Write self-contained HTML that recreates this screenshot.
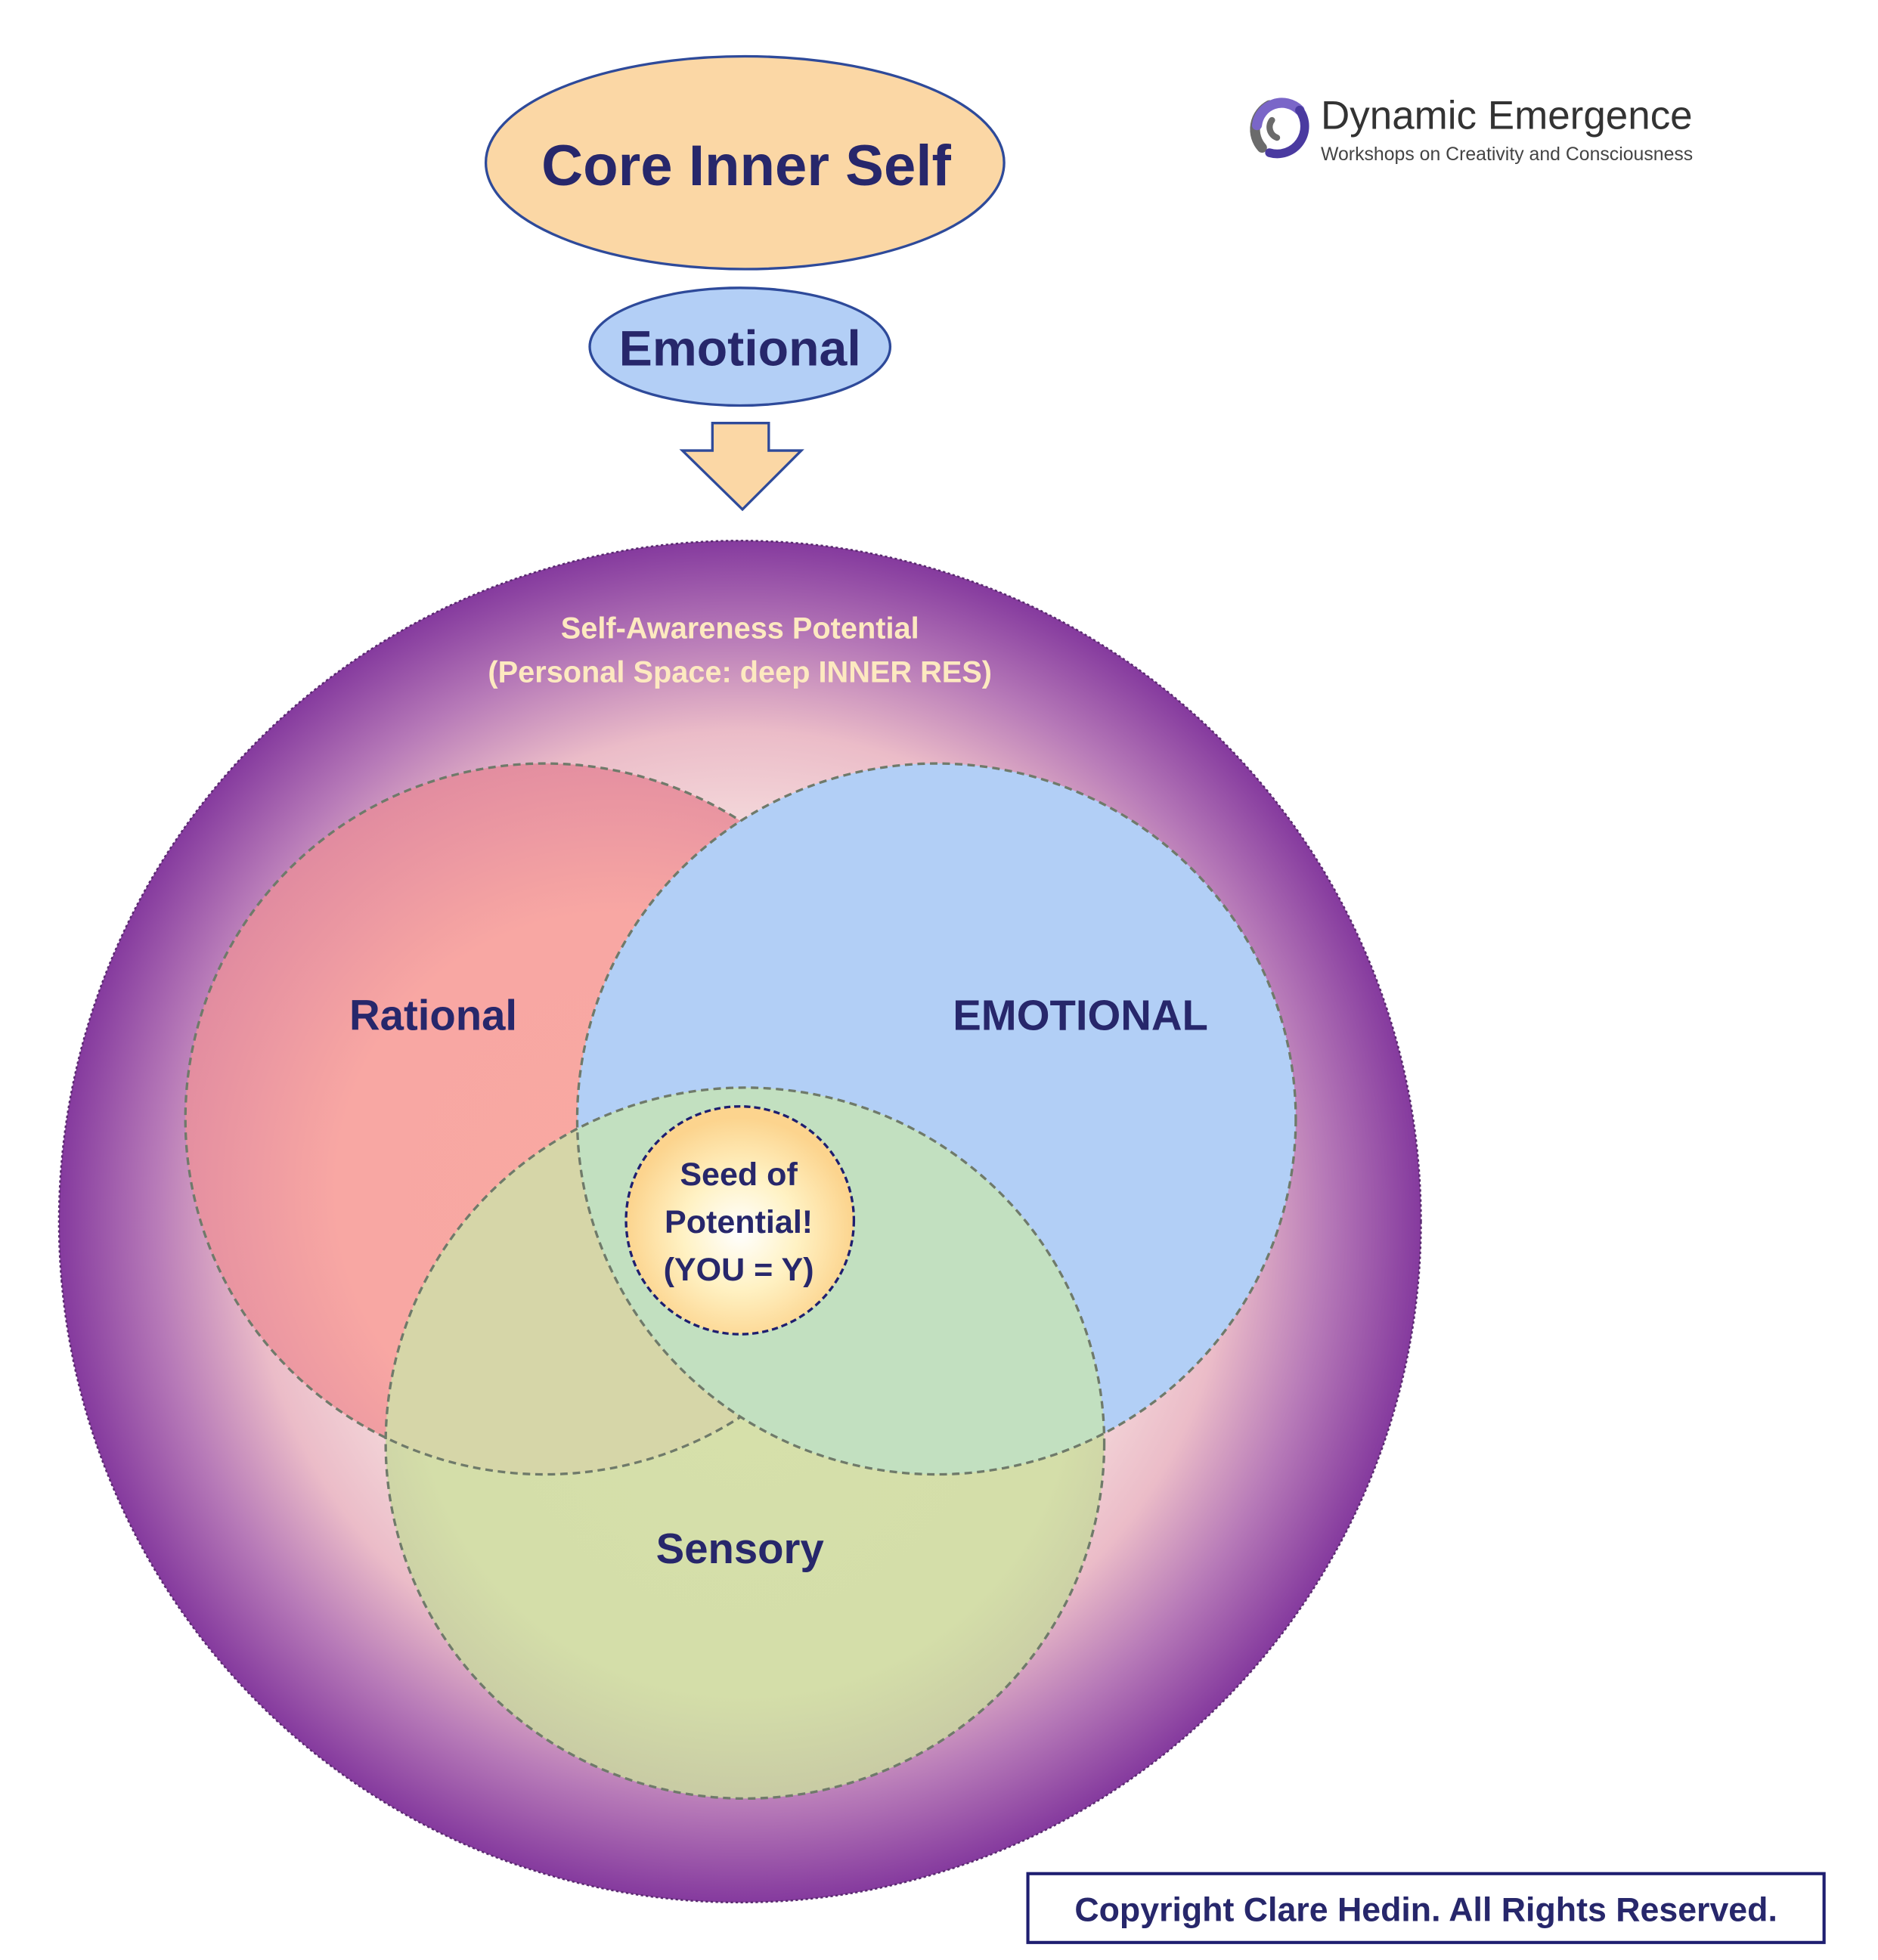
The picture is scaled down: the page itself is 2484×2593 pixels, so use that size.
<!DOCTYPE html>
<html><head><meta charset="utf-8"><style>html,body{margin:0;padding:0;background:#fff}svg{display:block}</style></head>
<body>
<svg width="2484" height="2593" viewBox="0 0 1500 1566" xmlns="http://www.w3.org/2000/svg" font-family="'Liberation Sans', 'DejaVu Sans', sans-serif">
<defs>
<radialGradient id="big" cx="0.5" cy="0.5" r="0.5">
<stop offset="0" stop-color="#ffffff"/>
<stop offset="0.55" stop-color="#f6dede"/>
<stop offset="0.72" stop-color="#ebbcc8"/>
<stop offset="0.86" stop-color="#b77ab8"/>
<stop offset="1" stop-color="#853a9e"/>
</radialGradient>
<radialGradient id="rat" cx="0.6" cy="0.6" r="0.65">
<stop offset="0" stop-color="#f9a8a2"/>
<stop offset="0.6" stop-color="#f8a7a3"/>
<stop offset="1" stop-color="#e08aa0"/>
</radialGradient>
<radialGradient id="sen" cx="0.5" cy="0.4" r="0.65">
<stop offset="0" stop-color="#d6e0aa"/>
<stop offset="0.7" stop-color="#d4dea9"/>
<stop offset="1" stop-color="#c4c4a2"/>
</radialGradient>
<radialGradient id="seed" cx="0.5" cy="0.55" r="0.5">
<stop offset="0" stop-color="#ffffff"/>
<stop offset="0.5" stop-color="#fff2c4"/>
<stop offset="1" stop-color="#fcd48e"/>
</radialGradient>
<clipPath id="cs"><ellipse cx="595" cy="1153" rx="287" ry="284"/></clipPath>
</defs>

<ellipse cx="595" cy="130" rx="207" ry="85" fill="#fbd7a5" stroke="#2e4a9a" stroke-width="2"/>
<text x="596" y="148" text-anchor="middle" font-size="46" font-weight="bold" fill="#27276b">Core Inner Self</text>
<ellipse cx="591" cy="277" rx="120" ry="47" fill="#b3cff6" stroke="#2e4a9a" stroke-width="2"/>
<text x="591" y="292" text-anchor="middle" font-size="40" font-weight="bold" fill="#27276b">Emotional</text>
<polygon points="569,338 614,338 614,360 640,360 593,407 545,360 569,360" fill="#fbd7a5" stroke="#2e4a9a" stroke-width="2"/>

<g fill="none" stroke-linecap="round">
<path d="M1008,118 A22,22 0 0 1 1014,84" stroke="#6b6b6b" stroke-width="8"/>
<path d="M1004,100 A20,20 0 0 1 1038,88" stroke="#7a66c8" stroke-width="8"/>
<path d="M1038,88 A22,22 0 0 1 1014,122" stroke="#4a3aa0" stroke-width="7"/>
<path d="M1020,110 A9,9 0 0 1 1016,96" stroke="#6b6b6b" stroke-width="5"/>
</g>
<text x="1055" y="103" font-size="32" fill="#333">Dynamic Emergence</text>
<text x="1055" y="128" font-size="15" fill="#444">Workshops on Creativity and Consciousness</text>

<circle cx="591" cy="976" r="544" fill="url(#big)" stroke="#5a2a70" stroke-width="1.5" stroke-dasharray="2,2"/>
<text x="591" y="510" text-anchor="middle" font-size="24" font-weight="bold" fill="#fde9c0">Self-Awareness Potential</text>
<text x="591" y="545" text-anchor="middle" font-size="24" font-weight="bold" fill="#fde9c0">(Personal Space: deep INNER RES)</text>

<g stroke="#6f7a6a" stroke-width="2" stroke-dasharray="6,4">
<ellipse cx="435" cy="894" rx="287" ry="284" fill="url(#rat)"/>
<ellipse cx="748" cy="894" rx="287" ry="284" fill="#b2cff6"/>
</g>
<ellipse cx="595" cy="1153" rx="287" ry="284" fill="url(#sen)"/>
<ellipse cx="435" cy="894" rx="287" ry="284" fill="#d6d6a8" clip-path="url(#cs)"/>
<ellipse cx="435" cy="894" rx="287" ry="284" fill="none" stroke="#6f7a6a" stroke-width="2" stroke-dasharray="6,4" clip-path="url(#cs)"/>
<ellipse cx="748" cy="894" rx="287" ry="284" fill="#c2e0c0" clip-path="url(#cs)"/>
<ellipse cx="748" cy="894" rx="287" ry="284" fill="none" stroke="#6f7a6a" stroke-width="2" stroke-dasharray="6,4" clip-path="url(#cs)"/>
<ellipse cx="595" cy="1153" rx="287" ry="284" fill="none" stroke="#6f7a6a" stroke-width="2" stroke-dasharray="6,4"/>

<text x="346" y="823" text-anchor="middle" font-size="34" font-weight="bold" fill="#27276b">Rational</text>
<text x="863" y="823" text-anchor="middle" font-size="34" font-weight="bold" fill="#27276b">EMOTIONAL</text>
<text x="591" y="1249" text-anchor="middle" font-size="34" font-weight="bold" fill="#27276b">Sensory</text>

<circle cx="591" cy="975" r="91" fill="url(#seed)" stroke="#1e1e70" stroke-width="2" stroke-dasharray="5,3"/>
<g text-anchor="middle" font-size="26" font-weight="bold" fill="#27276b">
<text x="590" y="947">Seed of</text>
<text x="590" y="985">Potential!</text>
<text x="590" y="1023">(YOU = Y)</text>
</g>

<rect x="821" y="1497" width="636" height="55" fill="#fff" stroke="#1e1e70" stroke-width="2.5"/>
<text x="1139" y="1535" text-anchor="middle" font-size="27" font-weight="bold" fill="#27276b">Copyright Clare Hedin. All Rights Reserved.</text>
</svg>
</body></html>
